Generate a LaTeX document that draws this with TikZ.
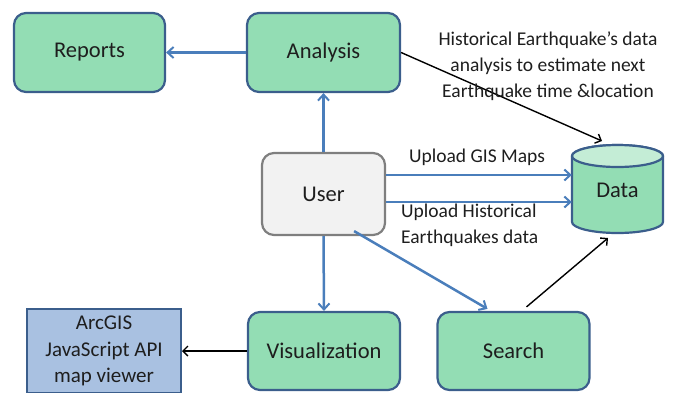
\documentclass[tikz,border=0pt]{standalone}
\usepackage{fontspec}
\setmainfont{Carlito}
\usetikzlibrary{arrows.meta}
\definecolor{boxgreen}{HTML}{93DDB4}
\definecolor{topgreen}{HTML}{C4EDD6}
\definecolor{boxborder}{HTML}{3B5E8C}
\definecolor{flowblue}{HTML}{4A7EBB}
\definecolor{usergray}{HTML}{F2F2F2}
\definecolor{userborder}{HTML}{7F7F7F}
\definecolor{apiblue}{HTML}{A9C1E1}
\definecolor{txt}{HTML}{1E1E1E}
\tikzset{
  procbox/.style={draw=boxborder, fill=boxgreen, line width=2.2pt, rounded corners=12pt,
    text=txt, font=\fontsize{22.5}{26}\selectfont, align=center, inner sep=0pt},
  userbox/.style={procbox, draw=userborder, fill=usergray},
  apibox/.style={draw=boxborder, fill=apiblue, line width=2pt, text=txt,
    font=\fontsize{21}{26.5}\selectfont, align=center, inner sep=0pt},
  blueflow/.style={draw=flowblue, line width=2.5pt, -{Straight Barb[length=6pt,width=11pt,line width=2pt]}},
  blackflow/.style={draw=black, line width=1.4pt, -{Straight Barb[length=5pt,width=10pt,line width=1.4pt]}},
  lbl/.style={text=txt, font=\fontsize{19.5}{26}\selectfont, inner sep=0pt}
}
\begin{document}
\begin{tikzpicture}[x=1pt,y=-1pt]
\useasboundingbox (0,0) rectangle (673,392);
% nodes
\node[procbox, minimum width=151pt, minimum height=79pt] (reports) at (89.5,52.5) {Reports};
\node[procbox, minimum width=153pt, minimum height=79pt] (analysis) at (323.5,52.5) {Analysis};
\node[userbox, minimum width=123pt, minimum height=82pt] (user) at (323.5,194) {User};
\node[procbox, minimum width=152pt, minimum height=78pt] (vis) at (324,351) {Visualization};
\node[procbox, minimum width=152pt, minimum height=78pt] (search) at (513.5,351) {Search};
\node[apibox, minimum width=154pt, minimum height=84pt] (api) at (104,351) {ArcGIS\\JavaScript API\\map viewer};
% data cylinder
\path[fill=boxgreen, draw=boxborder, line width=2.2pt]
  (572,156) -- (572,222) arc[start angle=180, end angle=360, x radius=45.5pt, y radius=11pt]
  -- (663,156) arc[start angle=0, end angle=180, x radius=45.5pt, y radius=11pt] -- cycle;
\path[fill=topgreen, draw=boxborder, line width=2.2pt] (617.5,156) ellipse[x radius=45.5pt, y radius=11pt];
\node[minimum width=91pt, minimum height=89pt, inner sep=0pt, text=txt,
  font=\fontsize{22.5}{26}\selectfont] (data) at (617.5,190) {Data};
\coordinate (dtop) at (602,141);
\coordinate (dbot) at (608,238);
% connectors
\draw[blueflow] (analysis.west) -- (reports.east);
\draw[blueflow] (user.north) -- (analysis.south);
\draw[blueflow] (user.south) -- (vis.north);
\draw[blueflow] ([xshift=-32pt,yshift=5pt]user.south east) -- ([xshift=-26pt,yshift=2pt]search.north);
\coordinate (u1) at ([yshift=19pt]user.east);
\coordinate (u2) at ([yshift=-8pt]user.east);
\draw[blueflow] (u1) -- (u1 -| data.west);
\draw[blueflow] (u2) -- (u2 -| data.west);
\draw[blackflow] (vis.west) -- (api.east);
\draw[blackflow] (analysis.east) -- (dtop);
\draw[blackflow] ([xshift=13pt,yshift=4pt]search.north) -- (dbot);
% labels
\node[lbl, align=center] (histlbl) at (548,66) {Historical Earthquake’s data\\analysis to estimate next\\Earthquake time \&location};
\node[lbl] (gislbl) at (477,157) {Upload GIS Maps};
\node[lbl, align=left, anchor=west] (uplbl) at (401,225) {Upload Historical\\Earthquakes data};
\end{tikzpicture}
\end{document}
